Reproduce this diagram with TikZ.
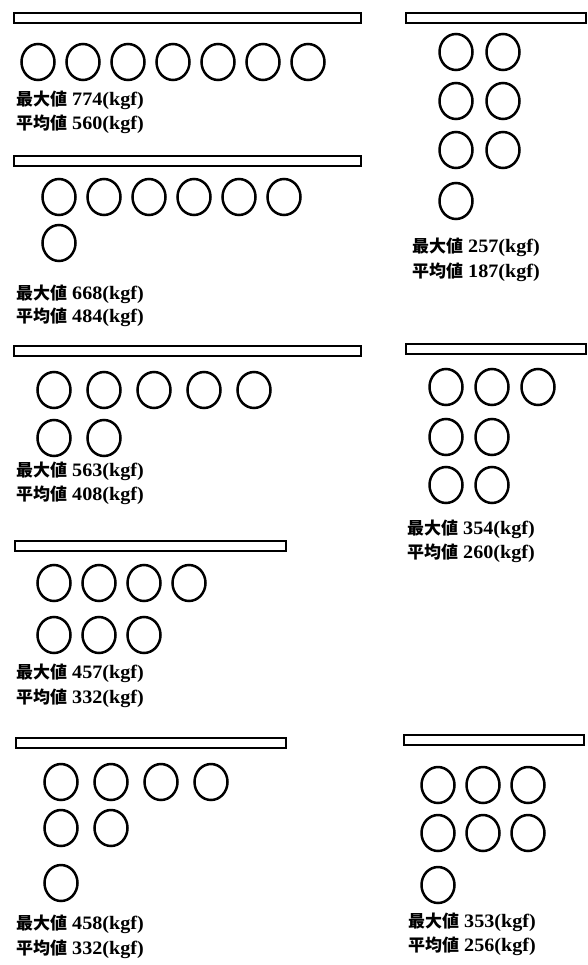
\documentclass[tikz,border=0pt]{standalone}
\usepackage{fontspec}
\setmainfont{Liberation Serif}[FakeStretch=1.06]
\newfontfamily\cjkfont{Noto Sans CJK JP}
\usetikzlibrary{shapes.geometric}
\tikzset{
  ring/.style={draw, ellipse, line width=2.5pt, minimum width=33pt, minimum height=36pt, inner sep=0pt},
  barbox/.style={draw, rectangle, line width=2.6pt, inner sep=0pt, minimum height=10pt},
  lbl/.style={anchor=base west, inner sep=0pt, font=\fontsize{19}{21}\selectfont\bfseries},
}
\newcommand{\maxlbl}[1]{{\cjkfont\fontsize{17}{19}\selectfont\bfseries 最大値} #1(kgf)}
\newcommand{\avglbl}[1]{{\cjkfont\fontsize{17}{19}\selectfont\bfseries 平均値} #1(kgf)}
\begin{document}
\begin{tikzpicture}[x=1pt, y=-1pt]
\useasboundingbox (0,0) rectangle (587,965);
% ---- Panel 1
\node[barbox, minimum width=347pt] (b1) at (187.5,18) {};
\foreach \i in {0,...,6} \node[ring] (p1r1c\i) at ({38+45*\i},62) {};
\node[lbl] (p1max) at (16,106) {\maxlbl{774}};
\node[lbl] (p1avg) at (16,130) {\avglbl{560}};
% ---- Panel 2
\node[barbox, minimum width=347pt] (b2) at (187.5,161) {};
\foreach \i in {0,...,5} \node[ring] (p2r1c\i) at ({59+45*\i},197) {};
\node[ring] (p2r2c0) at (59,243) {};
\node[lbl] (p2max) at (16,299) {\maxlbl{668}};
\node[lbl] (p2avg) at (16,322) {\avglbl{484}};
% ---- Panel 3
\node[barbox, minimum width=347pt] (b3) at (187.5,351) {};
\foreach \i in {0,...,4} \node[ring] (p3r1c\i) at ({54+50*\i},390) {};
\foreach \i in {0,1} \node[ring] (p3r2c\i) at ({54+50*\i},438) {};
\node[lbl] (p3max) at (16,476) {\maxlbl{563}};
\node[lbl] (p3avg) at (16,500) {\avglbl{408}};
% ---- Panel 4
\node[barbox, minimum width=271pt] (b4) at (150.5,546) {};
\foreach \i in {0,...,3} \node[ring] (p4r1c\i) at ({54+45*\i},583) {};
\foreach \i in {0,...,2} \node[ring] (p4r2c\i) at ({54+45*\i},635) {};
\node[lbl] (p4max) at (16,678) {\maxlbl{457}};
\node[lbl] (p4avg) at (16,703) {\avglbl{332}};
% ---- Panel 5
\node[barbox, minimum width=270pt] (b5) at (151,743) {};
\foreach \i in {0,...,3} \node[ring] (p5r1c\i) at ({61+50*\i},782) {};
\foreach \i in {0,1} \node[ring] (p5r2c\i) at ({61+50*\i},828) {};
\node[ring] (p5r3c0) at (61,883) {};
\node[lbl] (p5max) at (16,929) {\maxlbl{458}};
\node[lbl] (p5avg) at (16,954) {\avglbl{332}};
% ---- Panel 6
\node[barbox, minimum width=180pt] (b6) at (496,18) {};
\foreach \y [count=\r] in {52,101,150} {
  \node[ring] (p6r\r c0) at (456,\y) {};
  \node[ring] (p6r\r c1) at (503,\y) {};
}
\node[ring] (p6r4c0) at (456,201) {};
\node[lbl] (p6max) at (412,253) {\maxlbl{257}};
\node[lbl] (p6avg) at (412,278) {\avglbl{187}};
% ---- Panel 7
\node[barbox, minimum width=180pt] (b7) at (496,349) {};
\foreach \i/\x in {0/446,1/492,2/538} \node[ring] (p7r1c\i) at (\x,387) {};
\foreach \i/\x in {0/446,1/492} \node[ring] (p7r2c\i) at (\x,437) {};
\foreach \i/\x in {0/446,1/492} \node[ring] (p7r3c\i) at (\x,485) {};
\node[lbl] (p7max) at (407,534) {\maxlbl{354}};
\node[lbl] (p7avg) at (407,558) {\avglbl{260}};
% ---- Panel 8
\node[barbox, minimum width=180pt] (b8) at (494,740) {};
\foreach \i/\x in {0/438,1/483,2/528} \node[ring] (p8r1c\i) at (\x,785) {};
\foreach \i/\x in {0/438,1/483,2/528} \node[ring] (p8r2c\i) at (\x,833) {};
\node[ring] (p8r3c0) at (438,885) {};
\node[lbl] (p8max) at (408,927) {\maxlbl{353}};
\node[lbl] (p8avg) at (408,951) {\avglbl{256}};
\end{tikzpicture}
\end{document}
